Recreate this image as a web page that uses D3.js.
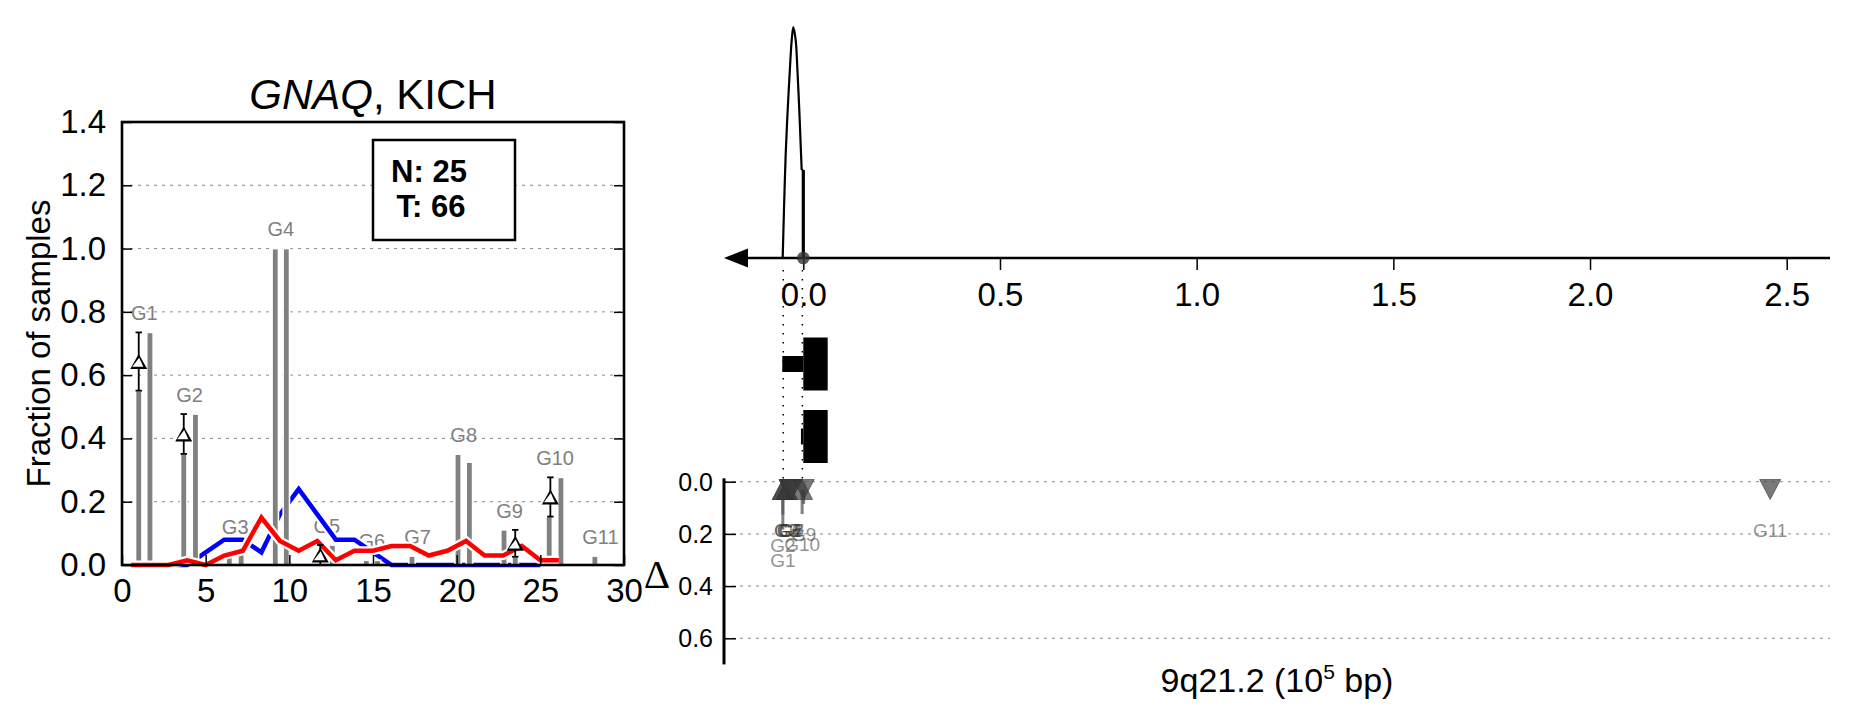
<!DOCTYPE html>
<html>
<head>
<meta charset="utf-8">
<script src="https://cdn.jsdelivr.net/npm/d3@7"></script>
<style>
  body { margin: 0; background: #fff; }
  svg { display: block; font-family: "Liberation Sans", Arial, Helvetica, sans-serif; }
</style>
</head>
<body>
<svg id="chart" width="1858" height="718"></svg>
<script>
// ---------------- DATA ----------------
const geneLabels = ["G1","G2","G3","G4","G5","G6","G7","G8","G9","G10","G11"];
// left panel: bar positions (x units) and fractions (normal / tumour)
const barNormalX = [1.0, 3.69, 6.41, 9.16, 11.9, 14.6, 17.33, 20.08, 22.83, 25.53, 28.26];
const barTumorX  = [1.67, 4.39, 7.12, 9.82, 12.57, 15.27, 18.0, 20.76, 23.5, 26.23, 28.93];
const barNormal  = [0.551, 0.351, 0.047, 1.0, 0.0, 0.015, 0.028, 0.35, 0.111, 0.153, 0.028];
const barTumor   = [0.735, 0.477, 0.058, 1.0, 0.063, 0.015, 0.0, 0.325, 0.026, 0.277, 0.0];
// genes with a delta marker, and the x of the marker
const deltaGenes = [0, 1, 4, 8, 9];
const deltaX     = [1.0, 3.69, 11.85, 23.5, 25.6];
// distribution lines
const binX = [0.56, 1.67, 2.78, 3.89, 5.0, 6.11, 7.22, 8.33, 9.44, 10.56, 11.67, 12.78,
              13.89, 15.0, 16.11, 17.22, 18.33, 19.44, 20.56, 21.67, 22.78, 23.89, 25.0, 26.11];
const normalLine = [0, 0, 0, 0, 0.04, 0.08, 0.08, 0.04, 0.16, 0.24, 0.16, 0.08,
                    0.08, 0.04, 0, 0, 0, 0, 0, 0, 0, 0, 0];
const tumorLine  = [0, 0, 0, 0.015, 0, 0.03, 0.045, 0.15, 0.076, 0.045, 0.076, 0.015,
                    0.045, 0.045, 0.06, 0.06, 0.03, 0.045, 0.076, 0.03, 0.03, 0.06, 0.015, 0.015];
const xTicksLeft = [0, 5, 10, 15, 20, 25, 30];
const yTicksLeft = [0, 0.2, 0.4, 0.6, 0.8, 1.0, 1.2, 1.4];
const gridLeft   = [0.2, 0.4, 0.6, 0.8, 1.0, 1.2];
const countN = 25, countT = 66;

// right panel: genomic coordinate (1e5 bp)
const xTicksRight = [0, 0.5, 1.0, 1.5, 2.0, 2.5];
const densityX = [-0.0524, -0.0491, -0.0447, -0.0397, -0.0338, -0.0295, -0.0254,
                  -0.0193, -0.0153, -0.0102, -0.0058, -0.0041];
const densityY = [0, 0.209, 0.453, 0.64, 0.827, 0.942, 1.0, 0.942, 0.827, 0.64, 0.453, 0.381];
const spikeX = 0.0, spikeY = 0.381;
const boundaryX = [-0.051, -0.0025];
const exonThin  = [{row: 0, x0: -0.0534, x1: 0.0}, {row: 1, x0: -0.006, x1: 0.0}];
const exonThick = [{row: 0, x0: 0.0, x1: 0.062}, {row: 1, x0: 0.0, x1: 0.062}];
const genePos   = [-0.052, -0.052, -0.042, -0.035, -0.042, -0.035, -0.03, -0.03, 0.001, -0.003, 2.458];
const geneDir   = [1, 1, 1, -1, 1, -1, -1, -1, -1, 1, -1];
const geneDelta = [0.184, 0.126, 0.011, 0, 0.063, 0, 0.028, 0.025, 0.085, 0.124, 0.028];
const yTicksBottom = [0, 0.2, 0.4, 0.6];

// ---------------- DRAW ----------------
const svg = d3.select("#chart");

// ===== LEFT PANEL =====
const L = {x0: 122, x1: 624, y0: 122, y1: 565};
const x = d3.scaleLinear().domain([0, 30]).range([L.x0, L.x1]);
const y = d3.scaleLinear().domain([0, 1.4]).range([L.y1, L.y0]);
const left = svg.append("g");

// grid
left.selectAll("line.grid").data(gridLeft).join("line")
  .attr("x1", L.x0).attr("x2", L.x1)
  .attr("y1", d => y(d)).attr("y2", d => y(d))
  .attr("stroke", "#8c8c8c").attr("stroke-width", 1).attr("stroke-dasharray", "3,5");

// gene labels
const geneTop = geneLabels.map((g, i) => Math.max(barNormal[i], barTumor[i]));
left.selectAll("text.glab").data(geneLabels).join("text")
  .attr("x", (d, i) => x((barNormalX[i] + barTumorX[i]) / 2))
  .attr("y", (d, i) => y(geneTop[i] + 0.039))
  .attr("text-anchor", "middle").attr("font-size", 20).attr("fill", "#808080")
  .text(d => d);

const line = d3.line().x((d, i) => x(binX[i])).y(d => y(d));
function drawLine(data, color) {
  left.append("path").datum(data).attr("d", line).attr("fill", "none")
    .attr("stroke", "#fff").attr("stroke-width", 9).attr("stroke-linejoin", "miter");
  left.append("path").datum(data).attr("d", line).attr("fill", "none")
    .attr("stroke", color).attr("stroke-width", 4.5).attr("stroke-linejoin", "miter");
}
drawLine(normalLine, "#0000ff");

// bars
const barW = 6.4;
const bars = [];
geneLabels.forEach((g, i) => {
  bars.push({x: barNormalX[i], v: barNormal[i]});
  bars.push({x: barTumorX[i], v: barTumor[i]});
});
left.selectAll("rect.bar").data(bars.filter(b => b.v > 0)).join("rect")
  .attr("x", d => x(d.x) - barW / 2).attr("width", barW)
  .attr("y", d => y(d.v)).attr("height", d => y(0) - y(d.v))
  .attr("fill", "#808080").attr("stroke", "#fff").attr("stroke-width", 1.6);

drawLine(tumorLine, "#ff0000");

// delta markers with error bars
function deltaGlyph(g, cx, cy, w, h) {
  g.append("path")
    .attr("d", `M${cx},${cy - h / 2} L${cx + w / 2},${cy + h / 2} L${cx - w / 2},${cy + h / 2} Z`)
    .attr("fill", "#000");
  g.append("path")
    .attr("d", `M${cx + 0.4},${cy - h / 2 + 3.6} L${cx + w / 2 - 3.9},${cy + h / 2 - 2.2} L${cx - w / 2 + 2.1},${cy + h / 2 - 2.2} Z`)
    .attr("fill", "#fff");
}
deltaGenes.forEach((gi, k) => {
  const lo = Math.min(barNormal[gi], barTumor[gi]);
  const hi = Math.max(barNormal[gi], barTumor[gi]);
  const cx = x(deltaX[k]);
  const g = left.append("g");
  g.append("line").attr("x1", cx).attr("x2", cx).attr("y1", y(lo)).attr("y2", y(hi))
    .attr("stroke", "#000").attr("stroke-width", 1.8);
  [lo, hi].forEach(v => g.append("line").attr("x1", cx - 3.2).attr("x2", cx + 3.2)
    .attr("y1", y(v)).attr("y2", y(v)).attr("stroke", "#000").attr("stroke-width", 1.8));
  deltaGlyph(g, cx, y((lo + hi) / 2), 17, 15);
});

// axes (inward ticks)
const fmt = d3.format(".1f");
const xAxis = left.append("g").attr("transform", `translate(0,${L.y1})`)
  .call(d3.axisBottom(x).tickValues(xTicksLeft).tickSize(-10).tickSizeOuter(0).tickPadding(14).tickFormat(d3.format("d")));
const yAxis = left.append("g").attr("transform", `translate(${L.x0},0)`)
  .call(d3.axisLeft(y).tickValues(yTicksLeft).tickSize(-10).tickSizeOuter(0).tickPadding(16).tickFormat(fmt));
const yAxisR = left.append("g").attr("transform", `translate(${L.x1},0)`)
  .call(d3.axisRight(y).tickValues(yTicksLeft).tickSize(-10).tickSizeOuter(0).tickFormat(""));
[xAxis, yAxis, yAxisR].forEach(a => {
  a.select(".domain").remove();
  a.selectAll(".tick line").attr("stroke", "#000").attr("stroke-width", 1.5);
  a.selectAll(".tick text").attr("font-size", 33).attr("fill", "#000")
    .attr("font-family", "Liberation Sans, Arial, sans-serif");
});
left.append("rect").attr("x", L.x0).attr("y", L.y0)
  .attr("width", L.x1 - L.x0).attr("height", L.y1 - L.y0)
  .attr("fill", "none").attr("stroke", "#000").attr("stroke-width", 2.6);

// title
const title = left.append("text").attr("x", (L.x0 + L.x1) / 2).attr("y", 109)
  .attr("text-anchor", "middle").attr("font-size", 42).attr("fill", "#000");
title.append("tspan").attr("font-style", "italic").text("GNAQ");
title.append("tspan").text(", KICH");

// y label
left.append("text").attr("transform", `translate(50,${(L.y0 + L.y1) / 2}) rotate(-90)`)
  .attr("text-anchor", "middle").attr("font-size", 33).attr("fill", "#000")
  .text("Fraction of samples");

// N / T box
left.append("rect").attr("x", 373).attr("y", 140).attr("width", 142).attr("height", 100)
  .attr("fill", "#fff").attr("stroke", "#000").attr("stroke-width", 2.5);
left.append("text").attr("x", 429).attr("y", 182).attr("text-anchor", "middle")
  .attr("font-size", 31).attr("font-weight", "bold").text(`N: ${countN}`);
left.append("text").attr("x", 431).attr("y", 217).attr("text-anchor", "middle")
  .attr("font-size", 31).attr("font-weight", "bold").text(`T: ${countT}`);

// ===== RIGHT PANEL =====
const xg = d3.scaleLinear().domain([0, 2.5]).range([803.3, 1786.7]);
const yTop = d3.scaleLinear().domain([0, 1]).range([258, 27]);
const yB = d3.scaleLinear().domain([0, 0.7]).range([481.7, 664.4]);
const right = svg.append("g");
const axisLeftX = 724, axisRightX = 1830;

// bottom grid
right.selectAll("line.bgrid").data(yTicksBottom).join("line")
  .attr("x1", axisLeftX).attr("x2", axisRightX)
  .attr("y1", d => yB(d)).attr("y2", d => yB(d))
  .attr("stroke", "#8c8c8c").attr("stroke-width", 1).attr("stroke-dasharray", "3,5");

// dotted gene boundaries
right.selectAll("line.bound").data(boundaryX).join("line")
  .attr("x1", d => xg(d)).attr("x2", d => xg(d))
  .attr("y1", 270).attr("y2", yB(0))
  .attr("stroke", "#000").attr("stroke-width", 1.5).attr("stroke-dasharray", "1.5,7.5");

// top axis
const topAxis = right.append("g").attr("transform", "translate(0,258)")
  .call(d3.axisBottom(xg).tickValues(xTicksRight).tickSize(12).tickSizeOuter(0).tickPadding(13).tickFormat(fmt));
topAxis.select(".domain").remove();
topAxis.selectAll(".tick line").attr("stroke", "#000").attr("stroke-width", 1.5);
topAxis.selectAll(".tick text").attr("font-size", 33).attr("fill", "#000")
  .attr("font-family", "Liberation Sans, Arial, sans-serif");
right.append("line").attr("x1", 746).attr("x2", axisRightX).attr("y1", 258).attr("y2", 258)
  .attr("stroke", "#000").attr("stroke-width", 2.6);
right.append("path").attr("d", `M${axisLeftX},258 L${axisLeftX + 24},248.5 L${axisLeftX + 24},267.5 Z`)
  .attr("fill", "#000");

// density curve
const dens = d3.line().x((d, i) => xg(densityX[i])).y(d => yTop(d)).curve(d3.curveCatmullRom);
right.append("path").datum(densityY).attr("d", dens)
  .attr("fill", "none").attr("stroke", "#000").attr("stroke-width", 2.2);
right.append("line").attr("x1", xg(densityX[densityX.length - 1])).attr("x2", xg(spikeX))
  .attr("y1", yTop(spikeY)).attr("y2", yTop(spikeY)).attr("stroke", "#000").attr("stroke-width", 2.2);
right.append("line").attr("x1", xg(spikeX)).attr("x2", xg(spikeX))
  .attr("y1", yTop(spikeY)).attr("y2", yTop(0)).attr("stroke", "#000").attr("stroke-width", 3.2);
right.append("circle").attr("cx", xg(0)).attr("cy", 258).attr("r", 6.3)
  .attr("fill", "#333").attr("fill-opacity", 0.8);

// gene structures
const rowY = d3.scaleLinear().domain([0, 1]).range([364, 436.5]);
right.selectAll("rect.thin").data(exonThin).join("rect")
  .attr("x", d => xg(d.x0)).attr("width", d => xg(d.x1) - xg(d.x0))
  .attr("y", d => rowY(d.row) - 8).attr("height", 16).attr("fill", "#000");
right.selectAll("rect.thick").data(exonThick).join("rect")
  .attr("x", d => xg(d.x0)).attr("width", d => xg(d.x1) - xg(d.x0))
  .attr("y", d => rowY(d.row) - 26.5).attr("height", 53).attr("fill", "#000");

// bottom axis
const bAxis = right.append("g").attr("transform", `translate(${axisLeftX},0)`)
  .call(d3.axisRight(yB).tickValues(yTicksBottom).tickSize(12).tickSizeOuter(0).tickFormat(""));
bAxis.select(".domain").remove();
bAxis.selectAll(".tick line").attr("stroke", "#000").attr("stroke-width", 1.5);
right.selectAll("text.btick").data(yTicksBottom).join("text")
  .attr("x", axisLeftX - 11).attr("y", d => yB(d)).attr("dy", "0.36em")
  .attr("text-anchor", "end").attr("font-size", 25).text(d => fmt(d));
right.append("line").attr("x1", axisLeftX).attr("x2", axisLeftX)
  .attr("y1", yB(-0.013)).attr("y2", yB(0.7)).attr("stroke", "#000").attr("stroke-width", 3);
right.append("text").attr("x", 657).attr("y", 588).attr("text-anchor", "middle")
  .attr("font-family", "Liberation Serif, 'DejaVu Serif', serif").attr("font-size", 41).text("Δ");

// stems, markers, labels
const markerY = 0.03;
const gi = d3.range(geneLabels.length);
right.selectAll("line.stem").data(gi.filter(i => geneDelta[i] > markerY)).join("line")
  .attr("x1", i => xg(genePos[i])).attr("x2", i => xg(genePos[i]))
  .attr("y1", yB(markerY)).attr("y2", i => yB(geneDelta[i]))
  .attr("stroke", "#555").attr("stroke-opacity", 0.75).attr("stroke-width", 3);
right.selectAll("path.mk").data(gi).join("path")
  .attr("d", i => {
    const cx = xg(genePos[i]), cy = yB(markerY), w = 10.5, h = 10;
    return geneDir[i] > 0
      ? `M${cx},${cy - h} L${cx + w},${cy + h} L${cx - w},${cy + h} Z`
      : `M${cx - w},${cy - h} L${cx + w},${cy - h} L${cx},${cy + h} Z`;
  })
  .attr("fill", "#3a3a3a").attr("fill-opacity", 0.68)
  .attr("stroke", "#333").attr("stroke-opacity", 0.6).attr("stroke-width", 1);
right.selectAll("text.blab").data(gi).join("text")
  .attr("x", i => xg(genePos[i]))
  .attr("y", i => yB(Math.max(geneDelta[i], 0.069) + 0.142))
  .attr("text-anchor", "middle").attr("font-size", 19)
  .attr("fill", "#333").attr("fill-opacity", 0.55)
  .text(i => geneLabels[i]);

// x label
const xl = right.append("text").attr("x", (axisLeftX + axisRightX) / 2).attr("y", 692)
  .attr("text-anchor", "middle").attr("font-size", 34).attr("fill", "#000");
xl.append("tspan").text("9q21.2 (10");
xl.append("tspan").attr("dy", -13).attr("font-size", 21).text("5");
xl.append("tspan").attr("dy", 13).text(" bp)");
</script>
</body>
</html>
